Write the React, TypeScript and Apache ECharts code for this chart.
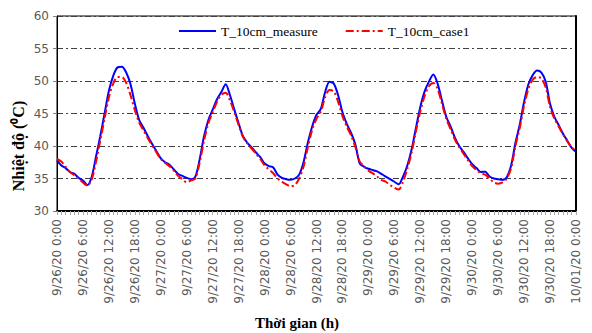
import React, { useEffect, useRef } from "react";
import * as echarts from "echarts";

const days = ["9/26/20", "9/27/20", "9/28/20", "9/29/20", "9/30/20", "10/01/20"];
const hoursPerDay = 24;

const measure = [
  37.8, 37.0, 36.6, 36.0, 35.7, 35.1, 34.7, 34.0, 35.2, 38.3,
  41.5, 45.0, 48.5, 50.8, 52.1, 52.2, 51.3, 49.5, 46.5, 44.0,
  42.8, 41.5, 40.3, 39.2, 38.1, 37.5, 37.1, 36.4, 35.7, 35.4,
  35.1, 34.9, 35.3, 38.0, 41.5, 44.0, 45.6, 47.2, 48.3, 49.5,
  47.8, 45.6, 43.5, 41.5, 40.5, 39.8, 39.0, 38.3, 37.3, 36.9,
  36.7, 35.6, 35.1, 34.9, 34.8, 35.0, 35.6, 37.5, 40.5, 43.0,
  44.8, 45.7, 48.3, 49.9, 49.6, 47.8, 45.2, 43.4, 42.0, 40.2,
  37.3, 36.8, 36.5, 36.3, 36.1, 35.7, 35.3, 34.9, 34.5, 34.1,
  35.3, 37.0, 39.5, 42.8, 46.0, 48.4, 49.9, 51.0, 49.6, 47.0,
  44.5, 43.0, 41.3, 40.0, 39.1, 38.1, 37.2, 36.6, 36.0, 36.05,
  35.3, 35.0, 34.9, 34.8, 35.2, 37.0, 40.5, 43.3, 46.8, 49.5,
  50.9, 51.6, 51.3, 49.9, 46.5, 44.5, 43.2, 41.9, 40.8, 39.7,
  39.1,
];

const case1 = [
  38.0, 37.6, 36.8, 36.0, 35.5, 35.0, 34.4, 33.9, 34.8, 37.5,
  40.8, 44.2, 47.5, 49.6, 50.6, 50.6, 49.7, 47.8, 45.5, 43.6,
  42.4, 41.2, 40.1, 39.0, 38.0, 37.4, 36.9, 36.2, 35.4, 34.9,
  34.4, 34.7, 35.0, 37.5, 40.8, 43.5, 45.2, 46.8, 47.9, 48.2,
  47.0, 45.2, 43.2, 41.4, 40.4, 39.6, 38.8, 38.0, 37.0, 36.4,
  35.8, 35.0, 34.5, 34.1, 33.8, 34.0, 35.0, 36.8, 39.8, 42.5,
  44.2, 45.3, 47.5, 48.6, 48.4, 46.8, 44.6, 43.0, 41.6, 39.8,
  37.6, 36.9, 36.2, 35.8, 35.3, 34.8, 34.5, 34.0, 33.6, 33.3,
  34.5, 36.5, 39.0, 42.3, 45.3, 47.7, 49.2, 49.7, 48.8, 46.5,
  44.2, 42.6, 41.0, 39.8, 38.8, 37.8, 36.9, 36.3, 35.8, 35.6,
  35.0, 34.4, 34.2, 34.4, 35.0, 36.6, 40.0, 42.8, 46.2, 48.8,
  50.2, 50.6, 50.4, 49.0, 46.0, 44.2, 43.0, 41.8, 40.7, 39.8,
  39.2,
];

const seriesNames = ["T_10cm_measure", "T_10cm_case1"];
const yTitle = "Nhiệt độ (⁰C)";
const xTitle = "Thời gian (h)";

const categories: string[] = [];
for (let d = 0; d < days.length; d++) {
  const maxH = d === days.length - 1 ? 1 : hoursPerDay;
  for (let h = 0; h < maxH; h++) categories.push(`${days[d]} ${h}:00`);
}

export default function App() {
  const ref = useRef<HTMLDivElement>(null);
  useEffect(() => {
    if (!ref.current) return;
    const chart = echarts.init(ref.current, null, { renderer: "svg" });
    const labelColor = "#595959";
    chart.setOption({
      animation: false,
      backgroundColor: "#fff",
      grid: {
        left: 57,
        right: 16,
        top: 16,
        bottom: 122,
        show: true,
        borderColor: "#000",
        borderWidth: 1,
      },
      legend: {
        left: 178,
        top: 24,
        padding: 0,
        itemWidth: 37,
        itemHeight: 14,
        itemGap: 27,
        itemStyle: { opacity: 0 },
        textStyle: { fontFamily: "Liberation Serif", fontSize: 13.5, color: "#000" },
        data: seriesNames,
      },
      xAxis: {
        type: "category",
        data: categories,
        boundaryGap: false,
        axisLine: { lineStyle: { color: "#000", width: 2 } },
        axisTick: { interval: 0, length: 4, lineStyle: { color: "#a6a6a6" } },
        axisLabel: {
          interval: 5,
          rotate: 90,
          fontFamily: "DejaVu Sans",
          fontSize: 12,
          color: labelColor,
          margin: 8,
        },
        splitLine: { show: false },
      },
      yAxis: [
        {
          type: "value",
          min: 30,
          max: 60,
          interval: 5,
          axisLine: { show: true, lineStyle: { color: "#000", width: 1 } },
          axisTick: { show: true, length: 4, lineStyle: { color: "#808080" } },
          axisLabel: { fontFamily: "DejaVu Sans", fontSize: 12, color: labelColor, margin: 8 },
          splitLine: {
            show: true,
            lineStyle: { color: "#404040", width: 1, type: [6, 3, 2, 3] },
          },
        },
        {
          type: "value",
          min: 30,
          max: 60,
          interval: 5,
          position: "right",
          axisLine: { show: true, lineStyle: { color: "#000", width: 2 } },
          axisTick: { show: false },
          axisLabel: { show: false },
          splitLine: { show: false },
        },
      ],
      series: [
        {
          name: seriesNames[0],
          type: "line",
          data: measure,
          symbol: "none",
          smooth: 0.3,
          z: 3,
          lineStyle: { color: "#0000ff", width: 2 },
          itemStyle: { color: "#0000ff" },
        },
        {
          name: seriesNames[1],
          type: "line",
          data: case1,
          symbol: "none",
          smooth: 0.3,
          z: 4,
          lineStyle: { color: "#ff0000", width: 2, type: [8, 3, 2, 3] },
          itemStyle: { color: "#ff0000" },
        },
      ],
      graphic: [
        {
          type: "text",
          x: 18,
          y: 146,
          rotation: Math.PI / 2,
          style: {
            text: yTitle,
            fontFamily: "Liberation Serif",
            fontWeight: "bold",
            fontSize: 16,
            fill: "#000",
            textAlign: "center",
            textVerticalAlign: "middle",
          },
        },
        {
          type: "text",
          x: 297,
          y: 323,
          style: {
            text: xTitle,
            fontFamily: "Liberation Serif",
            fontWeight: "bold",
            fontSize: 15,
            fill: "#000",
            textAlign: "center",
            textVerticalAlign: "middle",
          },
        },
      ],
    });
    return () => chart.dispose();
  }, []);
  return <div ref={ref} style={{ width: 592, height: 333, position: "absolute", left: 0, top: 0 }} />;
}
